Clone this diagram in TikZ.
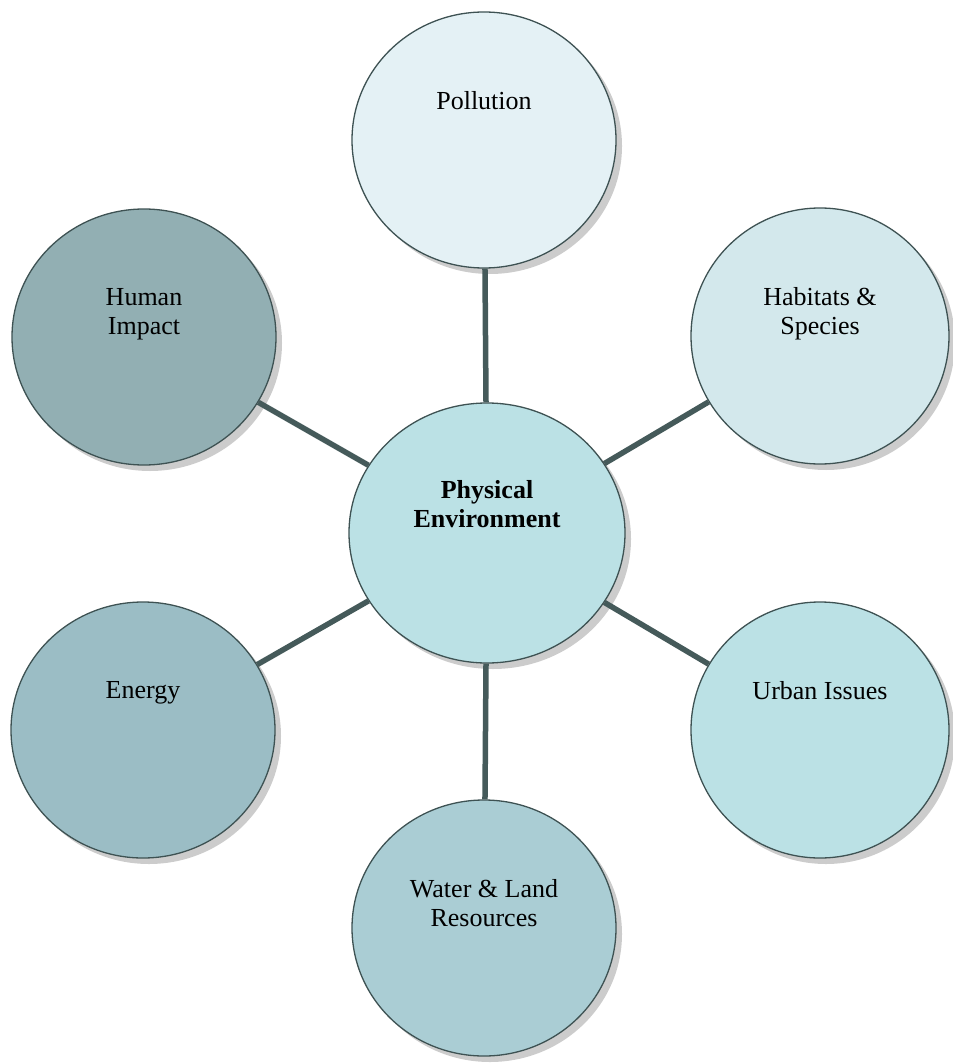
\documentclass[tikz,border=0pt]{standalone}
\usepackage{fontspec}
\setmainfont{Liberation Serif}
\usetikzlibrary{positioning,shapes.geometric,shadows}
\definecolor{linkgray}{HTML}{455A5A}
\definecolor{rimgray}{HTML}{3E5253}
\definecolor{polfill}{HTML}{E4F1F5}
\definecolor{habfill}{HTML}{D3E8EC}
\definecolor{humfill}{HTML}{92AFB3}
\definecolor{enefill}{HTML}{9BBDC5}
\definecolor{urbfill}{HTML}{BBE1E5}
\definecolor{watfill}{HTML}{AACDD4}
\definecolor{envfill}{HTML}{BBE1E5}

\begin{document}
\begin{tikzpicture}[
  x=1pt,y=-1pt,
  topic/.style={ellipse,draw=rimgray,line width=1.3pt,minimum width=264pt,minimum height=256pt,
    drop shadow={shadow xshift=6pt,shadow yshift=-6pt,fill=black!40}},
  txt/.style={align=center,font=\fontsize{26}{29}\selectfont,inner sep=0pt},
  link/.style={draw=linkgray,line width=5.5pt}
]
\useasboundingbox (0,0) rectangle (952,1064);
% hub
\node[topic,fill=envfill,minimum width=276pt,minimum height=260pt] (env) at (487,533) {};
\node[txt,font=\fontsize{26}{29}\selectfont\bfseries,below=78pt of env.north] (env-t) {Physical\\Environment};
% topics around the hub
\node[topic,fill=polfill] (pollution) at (484,140) {};
\node[topic,fill=habfill,minimum width=258pt] (habitats) at (820,336) {};
\node[topic,fill=humfill] (human) at (144,337) {};
\node[topic,fill=enefill] (energy) at (143,730) {};
\node[topic,fill=urbfill,minimum width=258pt] (urban) at (820,730) {};
\node[topic,fill=watfill] (water) at (484,928) {};
% labels, set high in each circle
\node[txt,below=80pt of pollution.north] (pollution-t) {Pollution};
\node[txt,below=80pt of habitats.north] (habitats-t) {Habitats \&\\Species};
\node[txt,below=80pt of human.north] (human-t) {Human\\Impact};
\node[txt,below=80pt of energy.north] (energy-t) {Energy};
\node[txt,below=80pt of urban.north] (urban-t) {Urban Issues};
\node[txt,below=80pt of water.north] (water-t) {Water \& Land\\Resources};
% spokes
\draw[link] (env) -- (pollution);
\draw[link] (env) -- (habitats);
\draw[link] (env) -- (human);
\draw[link] (env) -- (energy);
\draw[link] (env) -- (urban);
\draw[link] (env) -- (water);
\end{tikzpicture}
\end{document}
